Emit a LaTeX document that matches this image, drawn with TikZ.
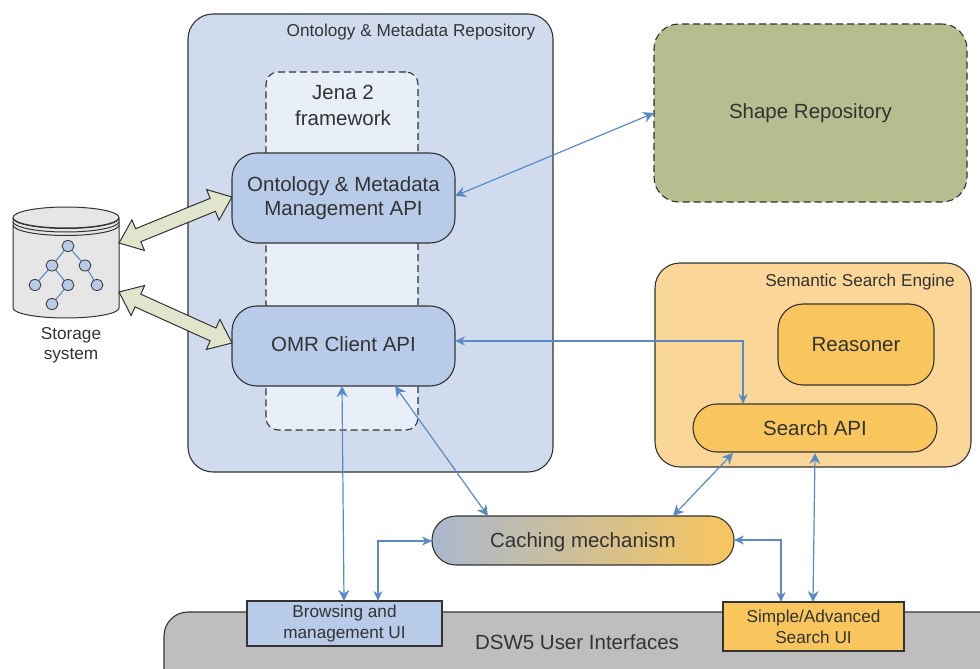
\documentclass[tikz,border=0pt]{standalone}
\usepackage{fontspec}
\setmainfont{Liberation Sans}
\usetikzlibrary{arrows.meta,calc,shapes.arrows,shapes.geometric}
\definecolor{repoblue}{HTML}{D0DCEE}
\definecolor{jenablue}{HTML}{E9EFF8}
\definecolor{apiblue}{HTML}{B8CBE8}
\definecolor{shapegreen}{HTML}{B5BE8F}
\definecolor{enginepeach}{HTML}{FBD699}
\definecolor{apiyellow}{HTML}{F8C65C}
\definecolor{userigray}{HTML}{BEBEBE}
\definecolor{linkblue}{HTML}{5A8AC6}
\definecolor{bigarrowfill}{HTML}{E0E5CC}
\definecolor{inkgray}{HTML}{333333}
\definecolor{barrelgray}{HTML}{E6E6E6}
\tikzset{
  box/.style={draw=inkgray, line width=1.1pt, rectangle, rounded corners=#1, inner sep=0pt, align=center, text=inkgray, font=\fontsize{20.5}{24}\selectfont},
  box/.default=25pt,
  longdash/.style={dash pattern=on 7pt off 4pt},
  uibox/.style={draw=inkgray, line width=1.2pt, rectangle, inner sep=0pt, align=center, text=inkgray, font=\fontsize{17.2}{21}\selectfont},
  caption/.style={inner sep=0pt, align=center, text=inkgray, font=\fontsize{17.2}{20}\selectfont},
  bigtext/.style={inner sep=0pt, align=center, text=inkgray, font=\fontsize{20.5}{26}\selectfont},
  link/.style={draw=linkblue, line width=1.2pt, {Stealth[length=11pt,width=11pt]}-{Stealth[length=11pt,width=11pt]}},
  elbow/.style={draw=linkblue, line width=1.5pt, {Stealth[length=10pt,width=9pt]}-{Stealth[length=10pt,width=9pt]}},
  treenode/.style={draw=inkgray, fill=apiblue, line width=0.8pt, ellipse, minimum width=12pt, minimum height=11pt, inner sep=0pt},
  treeedge/.style={draw=linkblue, line width=1.1pt},
  bigarrow/.style={draw=inkgray, fill=bigarrowfill, line width=1pt, double arrow, inner xsep=0pt, inner ysep=6.5pt, double arrow head extend=9.5pt, double arrow tip angle=77}
}
\newcommand{\widearrow}[2]{%
  \path let \p1=($(#2)-(#1)$), \n1={atan2(\y1,\x1)}, \n2={veclen(\x1,\y1)} in
    node[bigarrow, minimum height=\n2, rotate=\n1] at ($(#1)!0.5!(#2)$) {};
}
\begin{document}
\begin{tikzpicture}[x=1pt,y=-1pt]
  \clip (0,0) rectangle (980,669);
  % containers
  \node[box, fill=repoblue, minimum width=365pt, minimum height=458pt] (repo) at (370.5,243) {};
  \node[box=12pt, longdash, fill=jenablue, minimum width=152pt, minimum height=358pt] (jena) at (342,251) {};
  \node[box, longdash, fill=shapegreen, minimum width=313pt, minimum height=178pt] (shaperepo) at (810.5,113) {Shape Repository};
  \node[box, fill=enginepeach, minimum width=316pt, minimum height=204pt] (engine) at (813,365) {};
  \node[caption] (repolabel) at (411,32) {Ontology \& Metadata Repository};
  \node[bigtext] (jenalabel) at (343,105) {Jena 2\\framework};
  \node[caption] (enginelabel) at (860,282) {Semantic Search Engine};
  % inner boxes
  \node[box, fill=apiblue, minimum width=223pt, minimum height=90pt] (omm) at (343.5,198) {Ontology \& Metadata\\Management API};
  \node[box, fill=apiblue, minimum width=223pt, minimum height=80pt, text depth=4pt] (omr) at (343.5,346) {OMR Client API};
  \node[box, fill=apiyellow, minimum width=156pt, minimum height=81pt] (reasoner) at (856,344.5) {Reasoner};
  \node[box=24pt, fill=apiyellow, minimum width=244pt, minimum height=48pt] (search) at (815,428) {Search API};
  \node[box=24pt, left color=apiblue!75!gray, right color=apiyellow, minimum width=302pt, minimum height=49pt, text depth=0pt] (cache) at (583,540.5) {Caching mechanism};
  % user interfaces
  \node[box=24pt, fill=userigray, minimum width=860pt, minimum height=90pt] (dsw) at (594,657) {};
  \node[bigtext] (dswlabel) at (577,642) {DSW5 User Interfaces};
  \node[uibox, fill=apiblue, minimum width=195pt, minimum height=45pt] (browse) at (344.5,623.5) {Browsing and\\management UI};
  \node[uibox, fill=apiyellow, minimum width=181pt, minimum height=49pt] (simple) at (813.5,626.5) {Simple/Advanced\\Search UI};
  % storage barrel
  \draw[draw=inkgray, fill=barrelgray, line width=1pt] (13,218) -- (13,308) arc[start angle=180, end angle=360, x radius=53pt, y radius=10pt] -- (119,218);
  \foreach \y in {218,221.5,225} {
    \draw[draw=inkgray, line width=1pt] (13,\y) arc[start angle=180, end angle=360, x radius=53pt, y radius=10.5pt];
  }
  \draw[draw=inkgray, fill=barrelgray, line width=1pt] (66,217.5) ellipse[x radius=53pt, y radius=10.5pt];
  \node[treenode] (t1) at (68,246) {};
  \node[treenode] (t2) at (52,265.5) {};
  \node[treenode] (t3) at (85,265.5) {};
  \node[treenode] (t4) at (35,285) {};
  \node[treenode] (t5) at (68,285) {};
  \node[treenode] (t6) at (97,285) {};
  \node[treenode] (t7) at (52,304) {};
  \draw[treeedge] (t1) -- (t2);
  \draw[treeedge] (t1) -- (t3);
  \draw[treeedge] (t2) -- (t4);
  \draw[treeedge] (t2) -- (t5);
  \draw[treeedge] (t3) -- (t6);
  \draw[treeedge] (t5) -- (t7);
  \node[caption] (storelabel) at (71,345) {Storage\\system};
  % free ends on the box borders
  \coordinate (s1) at (119,243);
  \coordinate (s2) at (119,292);
  \coordinate (a1) at (232,197);
  \coordinate (a2) at (232,343);
  \coordinate (ommr) at (455,196);
  \coordinate (shapel) at (654,113);
  \coordinate (omrr) at (455,341);
  \coordinate (bend1) at (743,341);
  \coordinate (searcht) at (743,404);
  \coordinate (omrb1) at (342,386);
  \coordinate (brwt1) at (344,601);
  \coordinate (omrb2) at (395,386);
  \coordinate (cachet1) at (488,516);
  \coordinate (cachet2) at (673,516);
  \coordinate (searchb1) at (733,453);
  \coordinate (searchb2) at (815,453);
  \coordinate (simplet1) at (813,602);
  \coordinate (cacher) at (734,540);
  \coordinate (bend2) at (781,540);
  \coordinate (simplet2) at (781,602);
  \coordinate (cachel) at (432,541);
  \coordinate (bend3) at (378,541);
  \coordinate (brwt2) at (378,601);
  % connectors
  \widearrow{s1}{a1}
  \widearrow{s2}{a2}
  \draw[link] (ommr) -- (shapel);
  \draw[elbow] (omrr) -- (bend1) -- (searcht);
  \draw[link] (omrb1) -- (brwt1);
  \draw[link] (omrb2) -- (cachet1);
  \draw[link] (cachet2) -- (searchb1);
  \draw[link] (searchb2) -- (simplet1);
  \draw[elbow] (cacher) -- (bend2) -- (simplet2);
  \draw[elbow] (cachel) -- (bend3) -- (brwt2);
\end{tikzpicture}
\end{document}
